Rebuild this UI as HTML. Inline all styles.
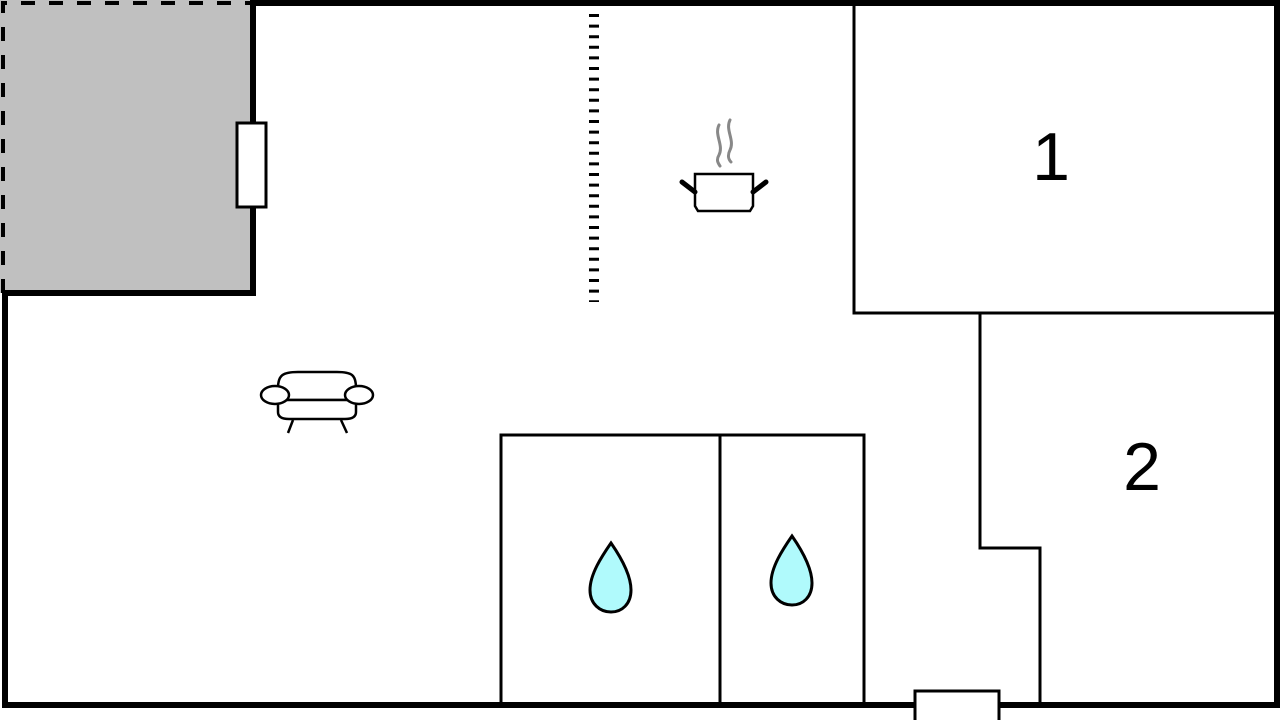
<!DOCTYPE html>
<html><head><meta charset="utf-8"><style>html,body{margin:0;padding:0;background:#fff}svg{display:block}</style></head>
<body>
<svg width="1280" height="720" viewBox="0 0 1280 720" xmlns="http://www.w3.org/2000/svg">
<rect width="1280" height="720" fill="#fff"/>
<rect x="0" y="0" width="253" height="293" fill="#c0c0c0"/>
<path d="M3 293 V3 H253" fill="none" stroke="#000" stroke-width="4" stroke-dasharray="14 14"/>
<path d="M253 3 H1277 V705 H5 V293 H253 Z" fill="none" stroke="#000" stroke-width="6"/>
<rect x="237" y="123" width="29" height="84" fill="#fff" stroke="#000" stroke-width="3"/>
<line x1="594" y1="14" x2="594" y2="302" stroke="#000" stroke-width="10" stroke-dasharray="3 7.6"/>
<rect x="854" y="3" width="423" height="310" fill="none" stroke="#000" stroke-width="3"/>
<path d="M980 313 V548 H1040 V705" fill="none" stroke="#000" stroke-width="3"/>
<rect x="501" y="435" width="363" height="270" fill="none" stroke="#000" stroke-width="3"/>
<line x1="720" y1="435" x2="720" y2="705" stroke="#000" stroke-width="3"/>
<rect x="915" y="691" width="84" height="32" fill="#fff" stroke="#000" stroke-width="3"/>
<text x="1051" y="180" font-family="Liberation Sans, sans-serif" font-size="68" text-anchor="middle">1</text>
<text x="1142" y="490" font-family="Liberation Sans, sans-serif" font-size="68" text-anchor="middle">2</text>
<path d="M611 543 C602 556 590 574 590 590 C590 604 600 612 611 612 C622 612 631 604 631 590 C631 574 620 556 611 543 Z" fill="#b0fafc" stroke="#000" stroke-width="3"/>
<path d="M792 536 C783 549 771 567 771 583 C771 597 781 605 792 605 C803 605 812 597 812 583 C812 567 801 549 792 536 Z" fill="#b0fafc" stroke="#000" stroke-width="3"/>
<g fill="none" stroke="#888" stroke-width="3" stroke-linecap="round">
<path d="M719 125 C714 135 724 145 719 155 C716 160 718 163 720 166"/>
<path d="M730 120 C725 130 735 140 730 150 C727 156 729 160 731 162"/>
</g>
<g fill="none" stroke="#000" stroke-width="2.5">
<path d="M695 174 H753 V206 L750 211 H698 L695 206 Z"/>
</g>
<path d="M682 182 L695 192 M766 182 L753 192" stroke="#000" stroke-width="5" stroke-linecap="round"/>
<g fill="#fff" stroke="#000" stroke-width="2.5">
<path d="M278 388 C278 375 283 372 298 372 H337 C352 372 356 375 356 388 V400 H278 Z"/>
<path d="M278 400 H356 V412 C356 417 352 419 345 419 H289 C282 419 278 417 278 412 Z"/>
<ellipse cx="275" cy="395" rx="14" ry="9"/>
<ellipse cx="359" cy="395" rx="14" ry="9"/>
<path d="M293 420 L288 433 M341 420 L347 433" fill="none"/>
</g>
</svg>
</body></html>
